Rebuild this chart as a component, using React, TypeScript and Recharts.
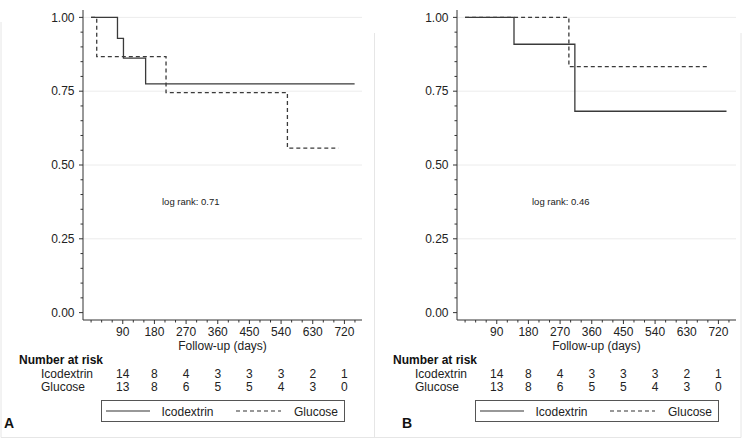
import { LineChart, Line, XAxis, YAxis, ReferenceLine } from "recharts"

// follow-up days where each step happens, and survival after it
const aIcoDays = [0, 75, 92, 155, 749]
const aIcoSurv = [1, 0.929, 0.862, 0.775, 0.775]
const aGluDays = [0, 16, 213, 558, 703]
const aGluSurv = [1, 0.867, 0.745, 0.557, 0.557]

const bIcoDays = [0, 139, 312, 743]
const bIcoSurv = [1, 0.909, 0.682, 0.682]
const bGluDays = [0, 295, 691]
const bGluSurv = [1, 0.833, 0.833]

const riskDays = [90, 180, 270, 360, 450, 540, 630, 720]
const riskIco = [14, 8, 4, 3, 3, 3, 2, 1]
const riskGlu = [13, 8, 6, 5, 5, 4, 3, 0]

const xTicks = [0, 30, 60, 90, 120, 150, 180, 210, 240, 270, 300, 330, 360, 390, 420, 450, 480, 510, 540, 570, 600, 630, 660, 690, 720, 750]
const yTicks = [0, 0.05, 0.1, 0.15, 0.2, 0.25, 0.3, 0.35, 0.4, 0.45, 0.5, 0.55, 0.6, 0.65, 0.7, 0.75, 0.8, 0.85, 0.9, 0.95, 1]
const yMajor = [0.25, 0.5, 0.75, 1]

const FONT = "'Liberation Sans', Arial, sans-serif"
const INK = "#333"

const toRows = (days: number[], surv: number[]) => days.map((t, i) => ({ t, s: surv[i] }))

function XTick({ x, y, payload }: any) {
  const v = payload.value
  const idx = riskDays.indexOf(v)
  const major = idx >= 0
  return (
    <g>
      <line x1={x} x2={x} y1={y} y2={y + (major ? 4 : 2.5)} stroke={INK} strokeWidth={1} />
      {major && (
        <>
          <text x={x} y={y + 16} textAnchor="middle" fontSize={12} fill="#222" fontFamily={FONT}>{v}</text>
          <text x={x} y={y + 57.5} textAnchor="middle" fontSize={12} fill="#222" fontFamily={FONT}>{riskIco[idx]}</text>
          <text x={x} y={y + 71} textAnchor="middle" fontSize={12} fill="#222" fontFamily={FONT}>{riskGlu[idx]}</text>
        </>
      )}
    </g>
  )
}

function YTick({ x, y, payload }: any) {
  const v = payload.value
  const major = Math.abs(v * 4 - Math.round(v * 4)) < 1e-6
  return (
    <g>
      <line x1={x - (major ? 4 : 2.5)} x2={x} y1={y} y2={y} stroke={INK} strokeWidth={1} />
      {major && (
        <text x={x - 8.5} y={y + 4.3} textAnchor="end" fontSize={12} fill="#222" fontFamily={FONT}>{v.toFixed(2)}</text>
      )}
    </g>
  )
}

interface PanelProps {
  ico: { t: number; s: number }[]
  glu: { t: number; s: number }[]
  letter: string
  letterX: number
  logRank: string
  logRankX: number
}

function Panel({ ico, glu, letter, letterX, logRank, logRankX }: PanelProps) {
  return (
    <div style={{ position: "relative", width: 374, height: 439 }}>
      <LineChart width={374} height={439} margin={{ top: 10, right: 12, left: 43, bottom: 89 }}>
        <XAxis
          type="number"
          dataKey="t"
          domain={[-23, 770]}
          ticks={xTicks}
          interval={0}
          allowDataOverflow
          tickSize={0}
          tickMargin={0}
          tickLine={false}
          axisLine={{ stroke: INK }}
          height={30}
          tick={<XTick />}
        />
        <YAxis
          type="number"
          domain={[-0.025, 1.025]}
          ticks={yTicks}
          interval={0}
          allowDataOverflow
          tickSize={0}
          tickMargin={0}
          tickLine={false}
          axisLine={{ stroke: INK }}
          width={40}
          tick={<YTick />}
        />
        {yMajor.map((v) => (
          <ReferenceLine key={v} y={v} stroke="#ececec" strokeWidth={1} />
        ))}
        <Line data={ico} dataKey="s" type="stepAfter" stroke="#3a3a3a" strokeWidth={1.3} dot={false} isAnimationActive={false} />
        <Line data={glu} dataKey="s" type="stepAfter" stroke="#3a3a3a" strokeWidth={1.3} strokeDasharray="4 3" dot={false} isAnimationActive={false} />
      </LineChart>
      <svg width={374} height={439} style={{ position: "absolute", left: 0, top: 0, pointerEvents: "none" }} fontFamily={FONT}>
        <text x={logRankX} y={204.5} fontSize={9.5} fill="#222">{logRank}</text>
        <text x={222.5} y={350} textAnchor="middle" fontSize={12} fill="#222">Follow-up (days)</text>
        <text x={19} y={364} fontSize={12} fontWeight="bold" fill="#111">Number at risk</text>
        <text x={41} y={377.5} fontSize={12} fill="#222">Icodextrin</text>
        <text x={41} y={391} fontSize={12} fill="#222">Glucose</text>
        <rect x={101.5} y={400.5} width={243} height={21} fill="none" stroke="#555" strokeWidth={1} />
        <line x1={106} x2={150} y1={411} y2={411} stroke="#333" strokeWidth={1.2} />
        <text x={161.5} y={415.5} fontSize={12} fill="#222">Icodextrin</text>
        <line x1={236} x2={281} y1={411} y2={411} stroke="#333" strokeWidth={1.2} strokeDasharray="4 3" />
        <text x={294} y={415.5} fontSize={12} fill="#222">Glucose</text>
        <text x={letterX} y={427.5} fontSize={14} fontWeight="bold" fill="#111">{letter}</text>
      </svg>
    </div>
  )
}

export default function App() {
  return (
    <div style={{ position: "absolute", left: 0, top: 0, width: 749, height: 439, background: "#fff", fontFamily: FONT }}>
      <div style={{ position: "absolute", left: 0, top: 0 }}>
        <Panel ico={toRows(aIcoDays, aIcoSurv)} glu={toRows(aGluDays, aGluSurv)} letter="A" letterX={4} logRank="log rank: 0.71" logRankX={162} />
      </div>
      <div style={{ position: "absolute", left: 374, top: 0 }}>
        <Panel ico={toRows(bIcoDays, bIcoSurv)} glu={toRows(bGluDays, bGluSurv)} letter="B" letterX={28} logRank="log rank: 0.46" logRankX={158} />
      </div>
      <svg width={749} height={439} style={{ position: "absolute", left: 0, top: 0, pointerEvents: "none" }}>
        <line x1={1} x2={1} y1={22} y2={437.5} stroke="#e6e6e6" />
        <line x1={374.5} x2={374.5} y1={33} y2={437.5} stroke="#e6e6e6" />
        <line x1={741} x2={741} y1={33} y2={437.5} stroke="#e6e6e6" />
        <line x1={1} x2={741} y1={437.5} y2={437.5} stroke="#e6e6e6" />
      </svg>
    </div>
  )
}
